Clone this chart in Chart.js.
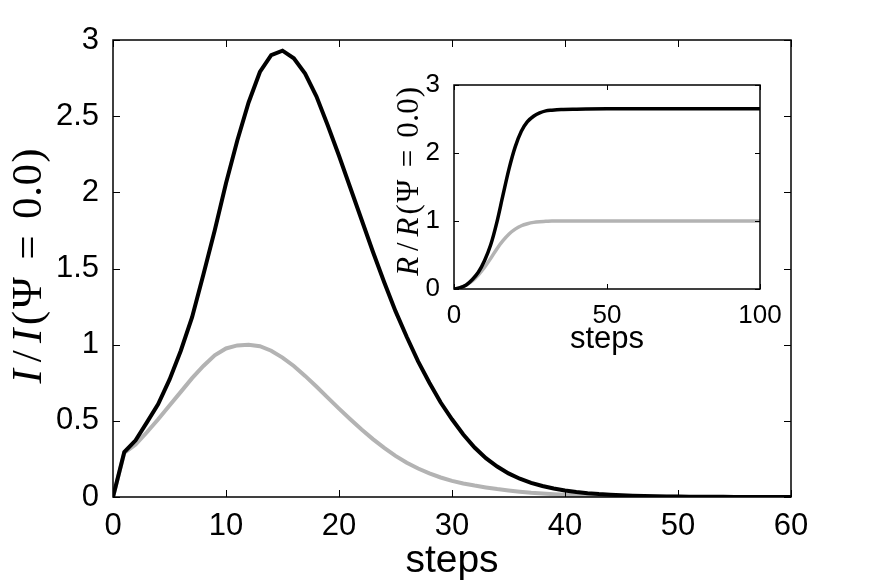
<!DOCTYPE html>
<html>
<head>
<meta charset="utf-8">
<script src="https://cdn.jsdelivr.net/npm/chart.js@4/dist/chart.umd.min.js"></script>
<style>
  html, body { margin: 0; padding: 0; background: #fff; }
  #wrap { position: relative; width: 873px; height: 584px; }
  #mainChart { position: absolute; left: 0; top: 0; }
  #insetChart { position: absolute; left: 385px; top: 60px; }
</style>
</head>
<body>
<div id="wrap">
  <canvas id="mainChart" width="873" height="584"></canvas>
  <canvas id="insetChart" width="410" height="300"></canvas>
</div>
<script>
// main panel: I / I(psi = 0.0) per step
var steps = [0, 1, 2, 3, 4, 5, 6, 7, 8, 9, 10, 11, 12, 13, 14, 15, 16, 17, 18, 19, 20,
  21, 22, 23, 24, 25, 26, 27, 28, 29, 30, 31, 32, 33, 34, 35, 36, 37, 38, 39, 40,
  41, 42, 43, 44, 45, 46, 47, 48, 49, 50, 51, 52, 53, 54, 55, 56, 57, 58, 59, 60];
var blackI = [0, 0.295, 0.372, 0.49, 0.61, 0.77, 0.96, 1.18, 1.46, 1.75, 2.06,
  2.34, 2.59, 2.79, 2.90, 2.93, 2.88, 2.78, 2.63, 2.44, 2.24,
  2.03, 1.82, 1.61, 1.41, 1.22, 1.05, 0.89, 0.75, 0.62, 0.51,
  0.41, 0.325, 0.255, 0.20, 0.155, 0.12, 0.093, 0.072, 0.056, 0.043,
  0.033, 0.025, 0.019, 0.015, 0.011, 0.0085, 0.0065, 0.005, 0.0038, 0.0029,
  0.0022, 0.0017, 0.0013, 0.001, 0.0008, 0.0006, 0.0005, 0.0004, 0.0003, 0.0002];
var grayI = [0, 0.29, 0.345, 0.425, 0.51, 0.60, 0.69, 0.78, 0.86, 0.93, 0.975,
  0.995, 1.0, 0.99, 0.96, 0.915, 0.86, 0.795, 0.725, 0.652, 0.58,
  0.51, 0.443, 0.38, 0.322, 0.27, 0.225, 0.187, 0.155, 0.128, 0.106,
  0.089, 0.075, 0.063, 0.052, 0.043, 0.035, 0.028, 0.023, 0.018, 0.014,
  0.011, 0.0085, 0.0065, 0.005, 0.0038, 0.0029, 0.0022, 0.0017, 0.0013, 0.001,
  0.0008, 0.0006, 0.0005, 0.0004, 0.0003, 0.0002, 0.0002, 0.0001, 0.0001, 0.0001];

// inset: R / R(psi = 0.0)
var insetSteps = [0, 2, 4, 6, 8, 10, 12, 14, 16, 18, 20, 22, 24, 26, 28, 30, 32, 35, 40, 50, 60, 70, 80, 90, 100];
var blackR = [0, 0.02, 0.06, 0.14, 0.25, 0.42, 0.65, 0.98, 1.38, 1.77, 2.09, 2.32, 2.46, 2.54, 2.59, 2.62, 2.63, 2.64, 2.645, 2.65, 2.65, 2.65, 2.65, 2.65, 2.65];
var grayR = [0, 0.02, 0.06, 0.12, 0.21, 0.32, 0.45, 0.59, 0.71, 0.81, 0.88, 0.93, 0.96, 0.98, 0.99, 0.995, 1.0, 1.0, 1.0, 1.0, 1.0, 1.0, 1.0, 1.0, 1.0];

var sans = '"Liberation Sans", Arial, Helvetica, sans-serif';
var serif = '"Liberation Serif", "Times New Roman", serif';

// latex-ish y label: [text, italic?, advance in em]
function texLabel(v) {
  return [[v, true, v === 'R' ? 0.76 : 0.44], ['/', false, 0.5], [v, true, v === 'R' ? 0.76 : 0.44],
    ['(', false, 0.39], ['Ψ', false, 0.78], ['=', false, 1.33], ['0', false, 0.5],
    ['.', false, 0.28], ['0', false, 0.5], [')', false, 0.39]];
}

function pts(xs, ys) {
  return xs.map(function (x, i) { return {x: x, y: ys[i]}; });
}

function numLabel(v) { return String(v); }

// matlab style box with inward ticks, plus the rotated y label
function boxPlugin(len, label, size, baseX, shift) {
  return {
    id: 'box',
    afterDraw: function (chart) {
      var ctx = chart.ctx, a = chart.chartArea;
      var xs = chart.scales.x, ys = chart.scales.y;
      ctx.save();
      ctx.strokeStyle = '#000';
      ctx.lineWidth = 1;
      ctx.beginPath();
      xs.ticks.forEach(function (t) {
        var px = Math.round(xs.getPixelForValue(t.value)) + 0.5;
        ctx.moveTo(px, a.bottom); ctx.lineTo(px, a.bottom - len);
        ctx.moveTo(px, a.top); ctx.lineTo(px, a.top + len);
      });
      ys.ticks.forEach(function (t) {
        var py = Math.round(ys.getPixelForValue(t.value)) + 0.5;
        ctx.moveTo(a.left, py); ctx.lineTo(a.left + len, py);
        ctx.moveTo(a.right, py); ctx.lineTo(a.right - len, py);
      });
      ctx.stroke();
      ctx.lineWidth = 1.5;
      ctx.strokeRect(a.left, a.top, a.right - a.left, a.bottom - a.top);

      var total = label.reduce(function (s, g) { return s + g[2] * size; }, 0);
      ctx.translate(baseX, (a.top + a.bottom) / 2 + shift);
      ctx.rotate(-Math.PI / 2);
      ctx.fillStyle = '#000';
      ctx.textAlign = 'center';
      ctx.textBaseline = 'alphabetic';
      var pos = -total / 2;
      label.forEach(function (g) {
        ctx.font = (g[1] ? 'italic ' : '') + size + 'px ' + serif;
        ctx.fillText(g[0], pos + g[2] * size / 2, 0);
        pos += g[2] * size;
      });
      ctx.restore();
    }
  };
}

new Chart(document.getElementById('mainChart'), {
  type: 'line',
  data: {
    datasets: [
      { data: pts(steps, blackI), borderColor: '#000', borderWidth: 4, pointRadius: 0, tension: 0 },
      { data: pts(steps, grayI), borderColor: '#b3b3b3', borderWidth: 4, pointRadius: 0, tension: 0 }
    ]
  },
  options: {
    responsive: false,
    animation: false,
    layout: { padding: { top: 40, right: 82, left: 0, bottom: 0 } },
    plugins: { legend: { display: false }, tooltip: { enabled: false } },
    scales: {
      x: {
        type: 'linear', min: 0, max: 60,
        grid: { display: false }, border: { display: false },
        ticks: { stepSize: 10, color: '#000', padding: 3, font: { family: sans, size: 31 } },
        title: { display: true, text: 'steps', color: '#000', padding: { top: 0, bottom: 3 },
                 font: { family: sans, size: 39, lineHeight: 1 } },
        afterFit: function (s) { s.height = 87; }
      },
      y: {
        min: 0, max: 3,
        grid: { display: false }, border: { display: false },
        ticks: { stepSize: 0.5, color: '#000', padding: 6, callback: numLabel, font: { family: sans, size: 31 } },
        afterFit: function (s) { s.width = 113; }
      }
    }
  },
  plugins: [boxPlugin(7, texLabel('I'), 43, 41, -2)]
});

new Chart(document.getElementById('insetChart'), {
  type: 'line',
  data: {
    datasets: [
      { data: pts(insetSteps, blackR), borderColor: '#000', borderWidth: 3.5, pointRadius: 0, cubicInterpolationMode: 'monotone' },
      { data: pts(insetSteps, grayR), borderColor: '#b3b3b3', borderWidth: 3.5, pointRadius: 0, cubicInterpolationMode: 'monotone' }
    ]
  },
  options: {
    responsive: false,
    animation: false,
    layout: { padding: { top: 25, right: 35, left: 0, bottom: 0 } },
    plugins: { legend: { display: false }, tooltip: { enabled: false } },
    scales: {
      x: {
        type: 'linear', min: 0, max: 100,
        grid: { display: false }, border: { display: false },
        ticks: { stepSize: 50, color: '#000', padding: 3, font: { family: sans, size: 26 } },
        title: { display: true, text: 'steps', color: '#000', padding: { top: 0, bottom: 5 },
                 font: { family: sans, size: 31, lineHeight: 1 } },
        afterFit: function (s) { s.height = 71; }
      },
      y: {
        min: 0, max: 3,
        grid: { display: false }, border: { display: false },
        ticks: { stepSize: 1, color: '#000', padding: 6, callback: numLabel, font: { family: sans, size: 26 } },
        afterFit: function (s) { s.width = 69; }
      }
    }
  },
  plugins: [boxPlugin(5, texLabel('R'), 31, 33, -5)]
});
</script>
</body>
</html>
